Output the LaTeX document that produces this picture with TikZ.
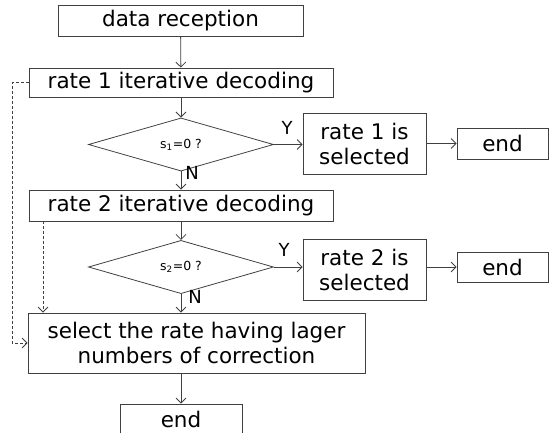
\documentclass[tikz,border=0pt]{standalone}
\usepackage{fontspec}
\setmainfont{DejaVu Sans}
\usetikzlibrary{arrows.meta,shapes.geometric}

\tikzset{
  box/.style={draw=black!75, line width=0.8pt, inner sep=0pt, align=center,
    font=\fontsize{21.5}{25}\selectfont},
  decision/.style={draw=black!75, line width=0.8pt, diamond, inner sep=0pt,
    font=\fontsize{12.5}{15}\selectfont},
  flow/.style={draw=black!75, line width=0.8pt,
    -{Straight Barb[length=5pt,width=10pt,line width=0.8pt]}},
  hint/.style={flow, dashed, dash pattern=on 3pt off 2pt},
  yn/.style={font=\fontsize{18}{20}\selectfont, inner sep=0pt},
}

\begin{document}
\begin{tikzpicture}[x=1pt,y=-1pt]
  \useasboundingbox (0,0) rectangle (556,432);

  \node[box, minimum width=245pt, minimum height=31pt] (recv) at (180.5,20.5) {data reception};
  \node[box, minimum width=304pt, minimum height=29pt] (dec1) at (181,82.5) {rate 1 iterative decoding};
  \node[decision, minimum width=185pt, minimum height=31pt] (dia1) at (181,144.5) {s\textsubscript{1}=0 ?};
  \node[box, minimum width=123pt, minimum height=61pt] (sel1) at (364.5,144) {rate 1 is\\selected};
  \node[box, minimum width=91pt, minimum height=31pt] (end1) at (502.5,143.5) {end};

  \node[box, minimum width=304pt, minimum height=31pt] (dec2) at (181,205.5) {rate 2 iterative decoding};
  \node[decision, minimum width=185pt, minimum height=30pt] (dia2) at (181,267) {s\textsubscript{2}=0 ?};
  \node[box, minimum width=123pt, minimum height=61pt] (sel2) at (364.5,269.5) {rate 2 is\\selected};
  \node[box, minimum width=91pt, minimum height=30pt] (end2) at (502.5,267) {end};

  \node[box, minimum width=337pt, minimum height=60pt] (pick) at (196.5,343) {select the rate having lager\\numbers of correction};
  % the last box runs past the lower edge of the page
  \node[box, minimum width=122pt, minimum height=30pt] (fin) at (181,419) {end};

  % main flow
  \draw[flow] (recv) -- (dec1);
  \draw[flow] (dec1) -- (dia1);
  \draw[flow] (dia1) -- (dec2);
  \draw[flow] (dia1.east) -- (dia1.east -| sel1.west);
  \draw[flow] (sel1.east |- end1.west) -- (end1.west);
  \draw[flow] (dec2) -- (dia2);
  \draw[flow] (dia2.east) -- (dia2.east -| sel2.west);
  \draw[flow] (sel2.east |- end2.west) -- (end2.west);
  \draw[flow] (dia2.south) -- (dia2.south |- pick.north);
  \draw[flow] (pick.south -| fin.north) -- (fin.north);

  % Y / N labels
  \node[yn] (y1) at (287,128) {Y};
  \node[yn] (n1) at (192,173) {N};
  \node[yn] (y2) at (284,250) {Y};
  \node[yn] (n2) at (195,297) {N};

  % dashed fall-back paths
  \coordinate (bend) at (12,82.5);
  \draw[hint] (dec1.west) -- (bend) |- (pick.west);
  \coordinate (drop) at (43,221);
  \draw[hint] (drop) -- (drop |- pick.north);
\end{tikzpicture}
\end{document}
